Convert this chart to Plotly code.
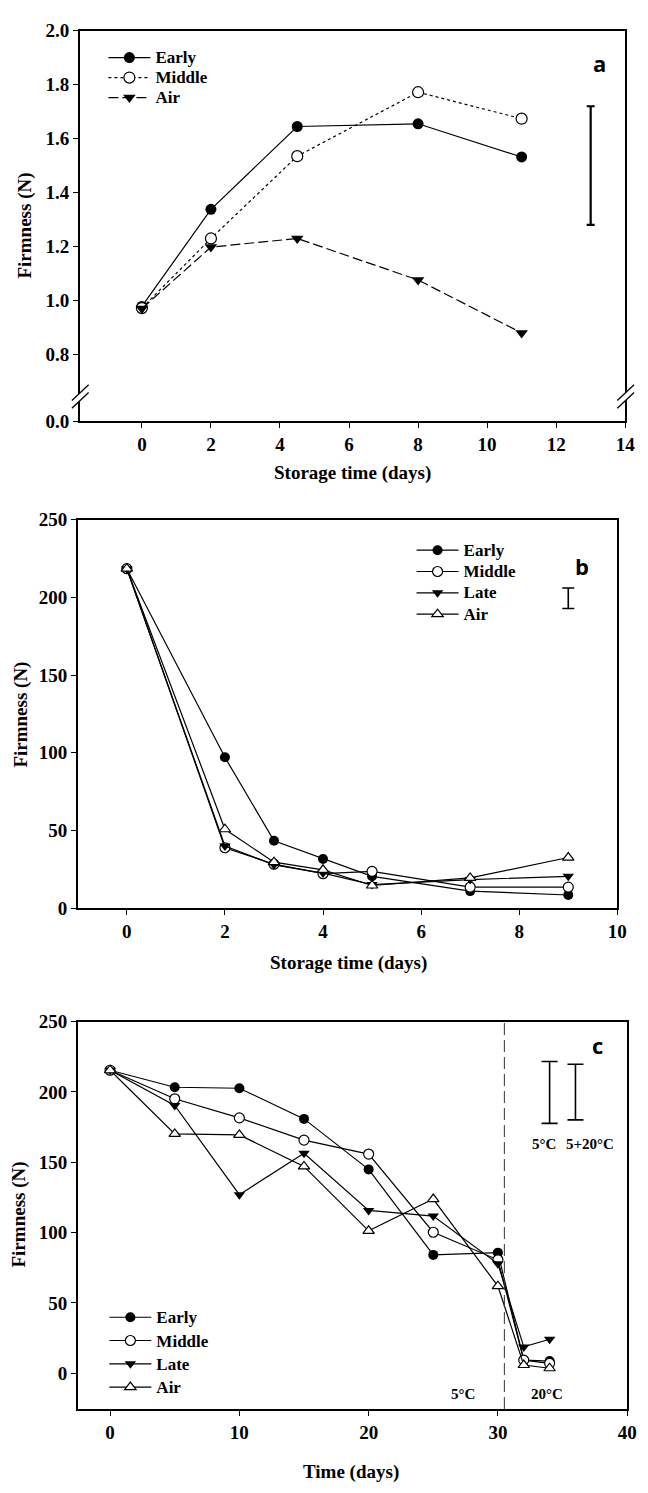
import plotly.graph_objects as go

W, H = 648, 1493

# ---------------- Panel a data ----------------
a_days = [0, 2, 4.5, 8, 11]
a_early = [0.978, 1.338, 1.645, 1.655, 1.532]
a_middle = [0.972, 1.230, 1.535, 1.772, 1.674]
a_air = [0.970, 1.198, 1.230, 1.076, 0.880]
a_err_x = [13]
a_err_center = [1.50]
a_err_half = [0.22]
a_yticks = [0.8, 1.0, 1.2, 1.4, 1.6, 1.8, 2.0]
a_break_base = 0.553          # display position of the "0.0" label below the axis break
a_xticks = [0, 2, 4, 6, 8, 10, 12, 14]

# ---------------- Panel b data ----------------
b_days = [0, 2, 3, 4, 5, 7, 9]
b_early = [218.5, 97.1, 43.4, 31.7, 20.5, 11.0, 8.5]
b_middle = [218.5, 38.9, 28.3, 22.2, 23.7, 13.5, 13.5]
b_late = [218.5, 40.0, 27.9, 22.6, 15.2, 18.4, 20.5]
b_air = [218.5, 50.8, 29.6, 24.7, 14.6, 19.5, 32.6]
b_err_x = [9]
b_err_center = [199.5]
b_err_half = [6.6]

# ---------------- Panel c data ----------------
c_days = [0, 5, 10, 15, 20, 25, 30, 32, 34]
c_early = [215.4, 203.3, 202.6, 180.8, 144.9, 84.1, 85.7, 9.3, 8.6]
c_middle = [215.4, 195.1, 181.5, 165.7, 155.8, 100.2, 80.6, 9.3, 7.0]
c_late = [215.4, 190.4, 126.9, 156.3, 115.7, 111.7, 77.8, 18.7, 24.1]
c_air = [215.4, 170.1, 169.4, 147.0, 101.2, 123.8, 61.9, 5.8, 3.5]
c_err_x = [34, 36]
c_err_center = [199.6, 199.9]
c_err_half = [22.0, 19.8]
c_err_labels = ["5°C", "5+20°C"]
c_switch_day = 30.5

SERIF = "Liberation Serif"
SANS = "Open Sans"

def px_x(p):
    return p / W

def px_y(p):
    return 1 - p / H

fig = go.Figure()

line_w = 1.2

def leg_name(s, size=17):
    return f'<span style="font-size:{size}px">{s}</span>'

# Panel a traces
fig.add_trace(go.Scatter(x=a_days, y=a_early, name=leg_name("Early"), mode="lines+markers",
                         line=dict(color="black", width=line_w),
                         marker=dict(symbol="circle", size=11, color="black"),
                         xaxis="x", yaxis="y", legend="legend"))
fig.add_trace(go.Scatter(x=a_days, y=a_middle, name=leg_name("Middle"), mode="lines+markers",
                         line=dict(color="black", width=line_w, dash="dot"),
                         marker=dict(symbol="circle", size=11, color="white", line=dict(color="black", width=1.2)),
                         xaxis="x", yaxis="y", legend="legend"))
fig.add_trace(go.Scatter(x=a_days, y=a_air, name=leg_name("Air"), mode="lines+markers",
                         line=dict(color="black", width=line_w, dash="10px,4px"),
                         marker=dict(symbol="triangle-down", size=11, color="black"),
                         xaxis="x", yaxis="y", legend="legend"))
fig.add_trace(go.Scatter(x=a_err_x, y=a_err_center, mode="markers", showlegend=False,
                         marker=dict(size=1, color="rgba(0,0,0,0)"),
                         error_y=dict(type="data", array=a_err_half, color="black", thickness=2.2, width=4),
                         xaxis="x", yaxis="y", hoverinfo="skip"))

def add_four(days, early, middle, late, air, xa, ya, leg, size):
    fig.add_trace(go.Scatter(x=days, y=early, name=leg_name("Early"), mode="lines+markers",
                             line=dict(color="black", width=line_w),
                             marker=dict(symbol="circle", size=size, color="black"),
                             xaxis=xa, yaxis=ya, legend=leg))
    fig.add_trace(go.Scatter(x=days, y=middle, name=leg_name("Middle"), mode="lines+markers",
                             line=dict(color="black", width=line_w),
                             marker=dict(symbol="circle", size=size, color="white", line=dict(color="black", width=1.2)),
                             xaxis=xa, yaxis=ya, legend=leg))
    fig.add_trace(go.Scatter(x=days, y=late, name=leg_name("Late"), mode="lines+markers",
                             line=dict(color="black", width=line_w),
                             marker=dict(symbol="triangle-down", size=size, color="black"),
                             xaxis=xa, yaxis=ya, legend=leg))
    fig.add_trace(go.Scatter(x=days, y=air, name=leg_name("Air"), mode="lines+markers",
                             line=dict(color="black", width=line_w),
                             marker=dict(symbol="triangle-up", size=size, color="white", line=dict(color="black", width=1.2)),
                             xaxis=xa, yaxis=ya, legend=leg))

add_four(b_days, b_early, b_middle, b_late, b_air, "x2", "y2", "legend2", 10)
fig.add_trace(go.Scatter(x=b_err_x, y=b_err_center, mode="markers", showlegend=False,
                         marker=dict(size=1, color="rgba(0,0,0,0)"),
                         error_y=dict(type="data", array=b_err_half, color="black", thickness=1.6, width=6),
                         xaxis="x2", yaxis="y2", hoverinfo="skip"))

add_four(c_days, c_early, c_middle, c_late, c_air, "x3", "y3", "legend3", 10)
fig.add_trace(go.Scatter(x=c_err_x, y=c_err_center, mode="markers", showlegend=False,
                         marker=dict(size=1, color="rgba(0,0,0,0)"),
                         error_y=dict(type="data", array=c_err_half, color="black", thickness=1.6, width=8),
                         xaxis="x3", yaxis="y3", hoverinfo="skip"))

tickfont = dict(family=SERIF, size=19, color="black", weight="bold")
axis_common = dict(showline=True, linewidth=1.5, linecolor="black", mirror=True,
                   ticks="outside", ticklen=5, tickwidth=1.2, tickcolor="black",
                   showgrid=False, zeroline=False, tickfont=tickfont)

fig.update_layout(
    width=W, height=H, autosize=False,
    margin=dict(l=0, r=0, t=0, b=0),
    paper_bgcolor="white", plot_bgcolor="white",
    xaxis=dict(domain=[px_x(81), px_x(635)], range=[-1.8, 14], tickvals=a_xticks,
               anchor="y", **axis_common),
    yaxis=dict(domain=[px_y(417), px_y(21)], range=[a_break_base, 2.0],
               tickvals=[a_break_base] + a_yticks,
               ticktext=["0.0"] + [f"{v:.1f}" for v in a_yticks],
               anchor="x", **axis_common),
    xaxis2=dict(domain=[px_x(79), px_x(627)], range=[-1, 10], tickvals=[0, 2, 4, 6, 8, 10],
                anchor="y2", **axis_common),
    yaxis2=dict(domain=[px_y(911), px_y(517)], range=[0, 250], tickvals=[0, 50, 100, 150, 200, 250],
                anchor="x2", **axis_common),
    xaxis3=dict(domain=[px_x(79), px_x(637)], range=[-2.5, 40], tickvals=[0, 10, 20, 30, 40],
                anchor="y3", **axis_common),
    yaxis3=dict(domain=[px_y(1419), px_y(1026)], range=[-25.5, 250], tickvals=[0, 50, 100, 150, 200, 250],
                anchor="x3", **axis_common),
    showlegend=True,
)

def legfont(size):
    return dict(family=SERIF, size=size, color="black", weight="bold")

fig.update_layout(
    legend=dict(x=px_x(105), y=px_y(33), xanchor="left", yanchor="top", font=legfont(13.1),
                bgcolor="rgba(0,0,0,0)", itemwidth=42, borderwidth=0),
    legend2=dict(x=px_x(418), y=px_y(532), xanchor="left", yanchor="top", font=legfont(14.1),
                 bgcolor="rgba(0,0,0,0)", itemwidth=42, borderwidth=0),
    legend3=dict(x=px_x(106), y=px_y(1309), xanchor="left", yanchor="top", font=legfont(15.6),
                 bgcolor="rgba(0,0,0,0)", itemwidth=42, borderwidth=0),
)

ann = []
titlefont = dict(family=SERIF, size=19, color="black", weight="bold")
ann.append(dict(text="Firmness (N)", x=px_x(25), y=px_y(219), xref="paper", yref="paper",
                textangle=-90, showarrow=False, font=titlefont, xanchor="center", yanchor="middle"))
ann.append(dict(text="Storage time (days)", x=px_x(358), y=px_y(470), xref="paper", yref="paper",
                showarrow=False, font=titlefont, xanchor="center", yanchor="middle"))
ann.append(dict(text="Firmness (N)", x=px_x(21), y=px_y(715), xref="paper", yref="paper",
                textangle=-90, showarrow=False, font=titlefont, xanchor="center", yanchor="middle"))
ann.append(dict(text="Storage time (days)", x=px_x(354), y=px_y(967), xref="paper", yref="paper",
                showarrow=False, font=titlefont, xanchor="center", yanchor="middle"))
ann.append(dict(text="Firmness (N)", x=px_x(19), y=px_y(1222), xref="paper", yref="paper",
                textangle=-90, showarrow=False, font=titlefont, xanchor="center", yanchor="middle"))
ann.append(dict(text="Time (days)", x=px_x(357), y=px_y(1483), xref="paper", yref="paper",
                showarrow=False, font=titlefont, xanchor="center", yanchor="middle"))

letterfont = dict(family=SANS, size=22, color="black", weight="bold")
ann.append(dict(text="a", x=13.25, y=1.88, xref="x", yref="y", showarrow=False, font=letterfont))
ann.append(dict(text="b", x=9.27, y=220, xref="x2", yref="y2", showarrow=False, font=letterfont))
ann.append(dict(text="c", x=37.7, y=233, xref="x3", yref="y3", showarrow=False, font=letterfont))

smallfont = dict(family=SERIF, size=15, color="black", weight="bold")
ann.append(dict(text=c_err_labels[0], x=33.6, y=163, xref="x3", yref="y3", showarrow=False, font=smallfont))
ann.append(dict(text=c_err_labels[1], x=37.1, y=163, xref="x3", yref="y3", showarrow=False, font=smallfont))
ann.append(dict(text="5°C", x=27.3, y=-14.5, xref="x3", yref="y3", showarrow=False, font=smallfont))
ann.append(dict(text="20°C", x=33.8, y=-14.5, xref="x3", yref="y3", showarrow=False, font=smallfont))
fig.update_layout(annotations=ann)

shapes = []
shapes.append(dict(type="line", xref="x3", yref="y3 domain", x0=c_switch_day, x1=c_switch_day, y0=0, y1=1,
                   line=dict(color="#333333", width=1, dash="12px,5px")))

def break_marks(xc):
    out = []
    out.append(dict(type="path", xref="paper", yref="paper", layer="above",
                    path=(f"M{px_x(xc-4)},{px_y(392.5)} L{px_x(xc+4)},{px_y(385)} "
                          f"L{px_x(xc+4)},{px_y(393)} L{px_x(xc-4)},{px_y(400.5)} Z"),
                    fillcolor="white", line=dict(width=0)))
    for dy in (0, 8):
        out.append(dict(type="line", xref="paper", yref="paper", layer="above",
                        x0=px_x(xc-8), y0=px_y(404-dy), x1=px_x(xc+9), y1=px_y(388-dy),
                        line=dict(color="black", width=1.3)))
    return out

shapes += break_marks(81)
shapes += break_marks(635)
fig.update_layout(shapes=shapes)

fig.write_html("out.html", config={"displayModeBar": False},
               post_script="document.body.style.margin='0';document.body.style.overflow='hidden';")
